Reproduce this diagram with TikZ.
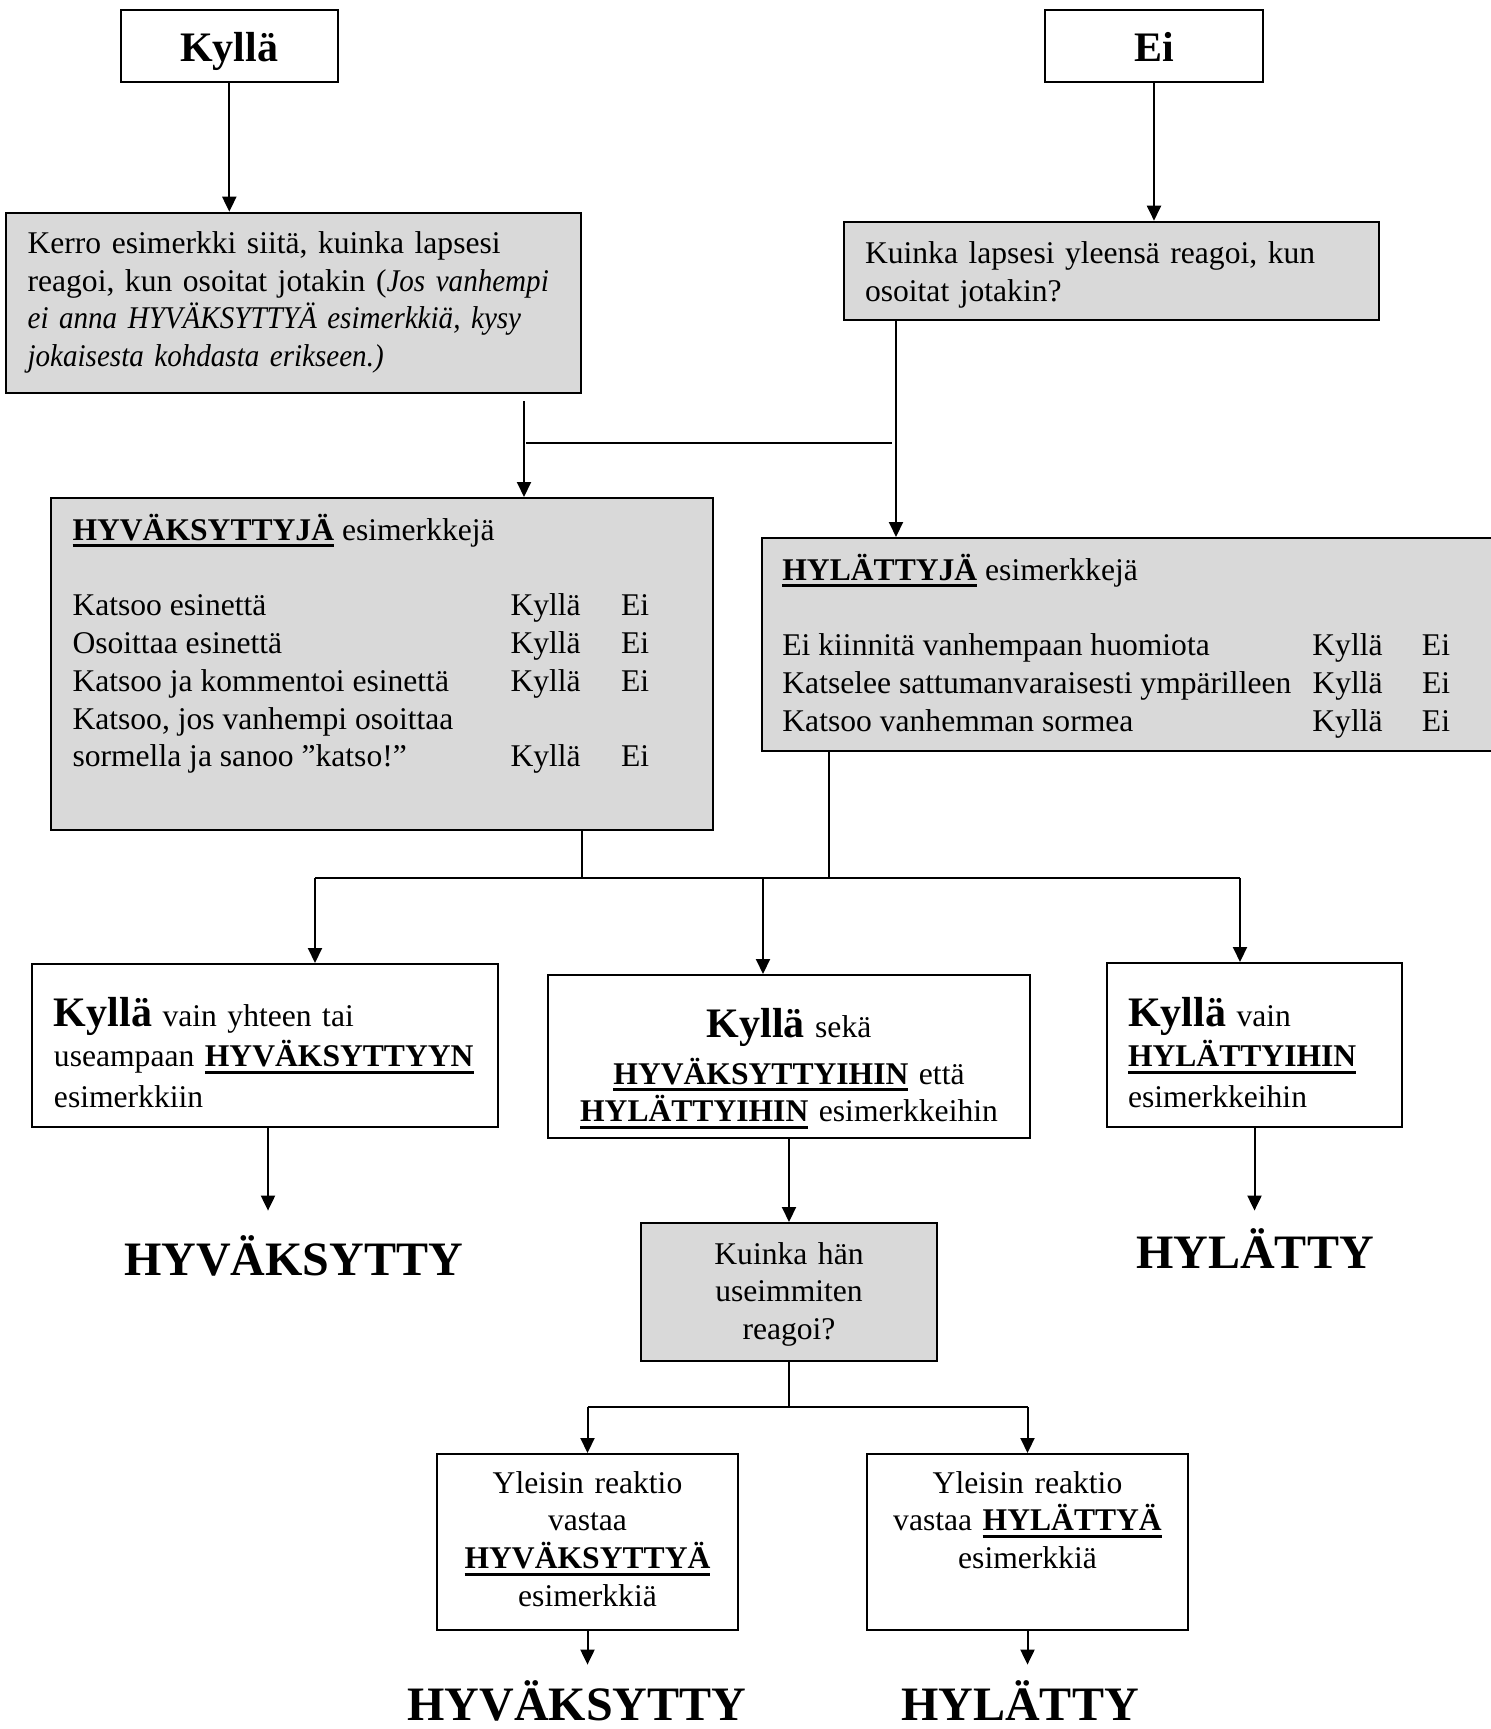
\documentclass[tikz,border=0pt]{standalone}
\usepackage{fontspec}
\setmainfont{Liberation Serif}
\usetikzlibrary{arrows.meta}
\hyphenpenalty=10000
\newcommand{\alle}[1]{\setbox0\hbox{\bfseries #1}\leavevmode\rlap{\vrule height -2pt depth 3.7pt width \wd0}\box0\relax}
\newcommand{\iso}[1]{{\fontsize{21}{24}\selectfont\bfseries #1}}
\newcommand{\kursiivi}[1]{{\itshape\addfontfeatures{FakeStretch=0.92}#1}}
\begin{document}
\begin{tikzpicture}[x=0.5pt, y=-0.5pt,
		every node/.style={font=\fontsize{15.8}{18.9}\selectfont},
		box/.style={draw, line width=1pt, inner sep=0pt},
		grey/.style={box, fill=black!15},
		head/.style={box, font=\fontsize{21}{24}\selectfont\bfseries, minimum width=108.7pt, text height=26pt, text depth=9.9pt},
		big/.style={font=\fontsize{24}{28}\selectfont\bfseries, inner sep=0pt, anchor=base},
		arr/.style={-{Triangle[length=7.5pt, width=7pt]}, line width=1pt}]
		\fill[white] (0, 0) rectangle (1491, 1729);
		\useasboundingbox (0, 0) rectangle (1491, 1729);
		\node[head] (kylla) at (229.3, 45.85) {Kyllä};
		\node[head] (ei) at (1154, 45.85) {Ei};
		\node[grey, text width=265.9pt, align=left, minimum width=287.5pt, text height=20.3pt, text depth=69.7pt] (kerro) at (293.5, 302.7) {\mbox{Kerro esimerkki siitä, kuinka lapsesi}\\ \mbox{reagoi, kun osoitat jotakin (\kursiivi{Jos vanhempi}}\\ \mbox{\kursiivi{ei anna HYVÄKSYTTYÄ esimerkkiä, kysy}}\\ \mbox{\kursiivi{jokaisesta kohdasta erikseen.)}}};
		\node[grey, text width=246.7pt, align=left, minimum width=267.5pt, text height=20.8pt, text depth=28.35pt] (kuinka) at (1111.7, 270.85) {Kuinka lapsesi yleensä reagoi, kun\\ osoitat jotakin?};
		\node[grey, minimum width=331pt, text height=21pt, text depth=145pt] (hyvex) at (381.5, 664) {\begin{tabular}[t]{@{}p{219pt}@{}p{55.25pt}@{}p{34.75pt}@{}}
			\multicolumn{3}{@{}l@{}}{\alle{HYVÄKSYTTYJÄ} esimerkkejä}\\[18.9pt]
			Katsoo esinettä & Kyllä & Ei\\
			Osoittaa esinettä & Kyllä & Ei\\
			Katsoo ja kommentoi esinettä & Kyllä & Ei\\
			Katsoo, jos vanhempi osoittaa & & \\
			sormella ja sanoo ”katso!” & Kyllä & Ei
		\end{tabular}};
		\node[grey, minimum width=366.75pt, text height=21pt, text depth=85.5pt] (hylex) at (1128.25, 644.5) {\begin{tabular}[t]{@{}p{265pt}@{}p{54.8pt}@{}p{26.05pt}@{}}
			\multicolumn{3}{@{}l@{}}{\alle{HYLÄTTYJÄ} esimerkkejä}\\[18.9pt]
			Ei kiinnitä vanhempaan huomiota & Kyllä & Ei\\
			Katselee sattumanvaraisesti ympärilleen & Kyllä & Ei\\
			Katsoo vanhemman sormea & Kyllä & Ei
		\end{tabular}};
		\node[box, text width=211pt, align=left, minimum width=233pt, text height=31pt, text depth=50.5pt] (a) at (265, 1045.5) {\iso{Kyllä} vain yhteen tai\\[1.4pt] useampaan~\alle{HYVÄKSYTTYYN}\\[1.4pt] esimerkkiin};
		\node[box, text width=220pt, align=center, minimum width=241pt, text height=31pt, text depth=50.5pt] (b) at (789, 1056.5) {\iso{Kyllä} sekä\\[4.6pt] \alle{HYVÄKSYTTYIHIN} että\\ \alle{HYLÄTTYIHIN} esimerkkeihin};
		\node[box, text width=126.5pt, align=left, minimum width=147.5pt, text height=31.5pt, text depth=50.5pt] (c) at (1254.5, 1045) {\iso{Kyllä} vain\\[1.4pt] \alle{HYLÄTTYIHIN}\\[1.4pt] esimerkkeihin};
		\node[big, text height=32pt] (hyv1) at (293.5, 1275) {HYVÄKSYTTY};
		\node[big, text height=28.5pt] (hyl1) at (1255, 1268) {HYLÄTTY};
		\node[grey, text width=130pt, align=center, minimum width=148pt, text height=20.5pt, text depth=48.5pt] (useim) at (789, 1292) {Kuinka hän\\ useimmiten\\ reagoi?};
		\node[box, text width=140pt, align=center, minimum width=150.5pt, text height=19.5pt, text depth=68.5pt] (d) at (587.5, 1542) {Yleisin reaktio\\ vastaa\\ \alle{HYVÄKSYTTYÄ}\\ esimerkkiä};
		\node[box, text width=150pt, align=center, minimum width=160.5pt, text height=19.5pt, text depth=68.5pt] (e) at (1027.5, 1542) {Yleisin reaktio\\ vastaa \alle{HYLÄTTYÄ}\\ esimerkkiä};
		\node[big, text height=27.5pt] (hyv2) at (577, 1720) {HYVÄKSYTTY};
		\node[big, text height=27.5pt] (hyl2) at (1020, 1720) {HYLÄTTY};
		\coordinate (k1) at (524, 401);
		\coordinate (k2) at (896, 0);
		\coordinate (h1) at (526, 443);
		\coordinate (h2) at (892, 443);
		\coordinate (p1) at (581.5, 878);
		\coordinate (p2) at (829, 878);
		\coordinate (j1) at (315, 878);
		\coordinate (j2) at (763, 878);
		\coordinate (j3) at (1240, 878);
		\coordinate (q1) at (268, 0);
		\coordinate (r) at (789, 1407);
		\draw[arr] (kylla) -- (kylla |- kerro.north);
		\draw[arr] (ei) -- (ei |- kuinka.north);
		\draw[arr] (k1) -- (k1 |- hyvex.north);
		\draw[arr] (k2 |- kuinka.south) -- (k2 |- hylex.north);
		\draw[line width=1pt] (h1) -- (h2);
		\draw[line width=1pt] (p1 |- hyvex.south) -- (p1);
		\draw[line width=1pt] (p2 |- hylex.south) -- (p2);
		\draw[line width=1pt] (j1) -- (j3);
		\draw[arr] (j1) -- (j1 |- a.north);
		\draw[arr] (j2) -- (j2 |- b.north);
		\draw[arr] (j3) -- (j3 |- c.north);
		\draw[arr] (q1 |- a.south) -- (q1 |- hyv1.north);
		\draw[arr] (c) -- (c |- hyl1.north);
		\draw[arr] (b) -- (useim);
		\draw[line width=1pt] (useim) -- (r);
		\draw[line width=1pt] (r -| d) -- (r -| e);
		\draw[arr] (r -| d) -- (d);
		\draw[arr] (r -| e) -- (e);
		\draw[arr] (d) -- (d |- hyv2.north);
		\draw[arr] (e) -- (e |- hyl2.north);
	\end{tikzpicture}
\end{document}
